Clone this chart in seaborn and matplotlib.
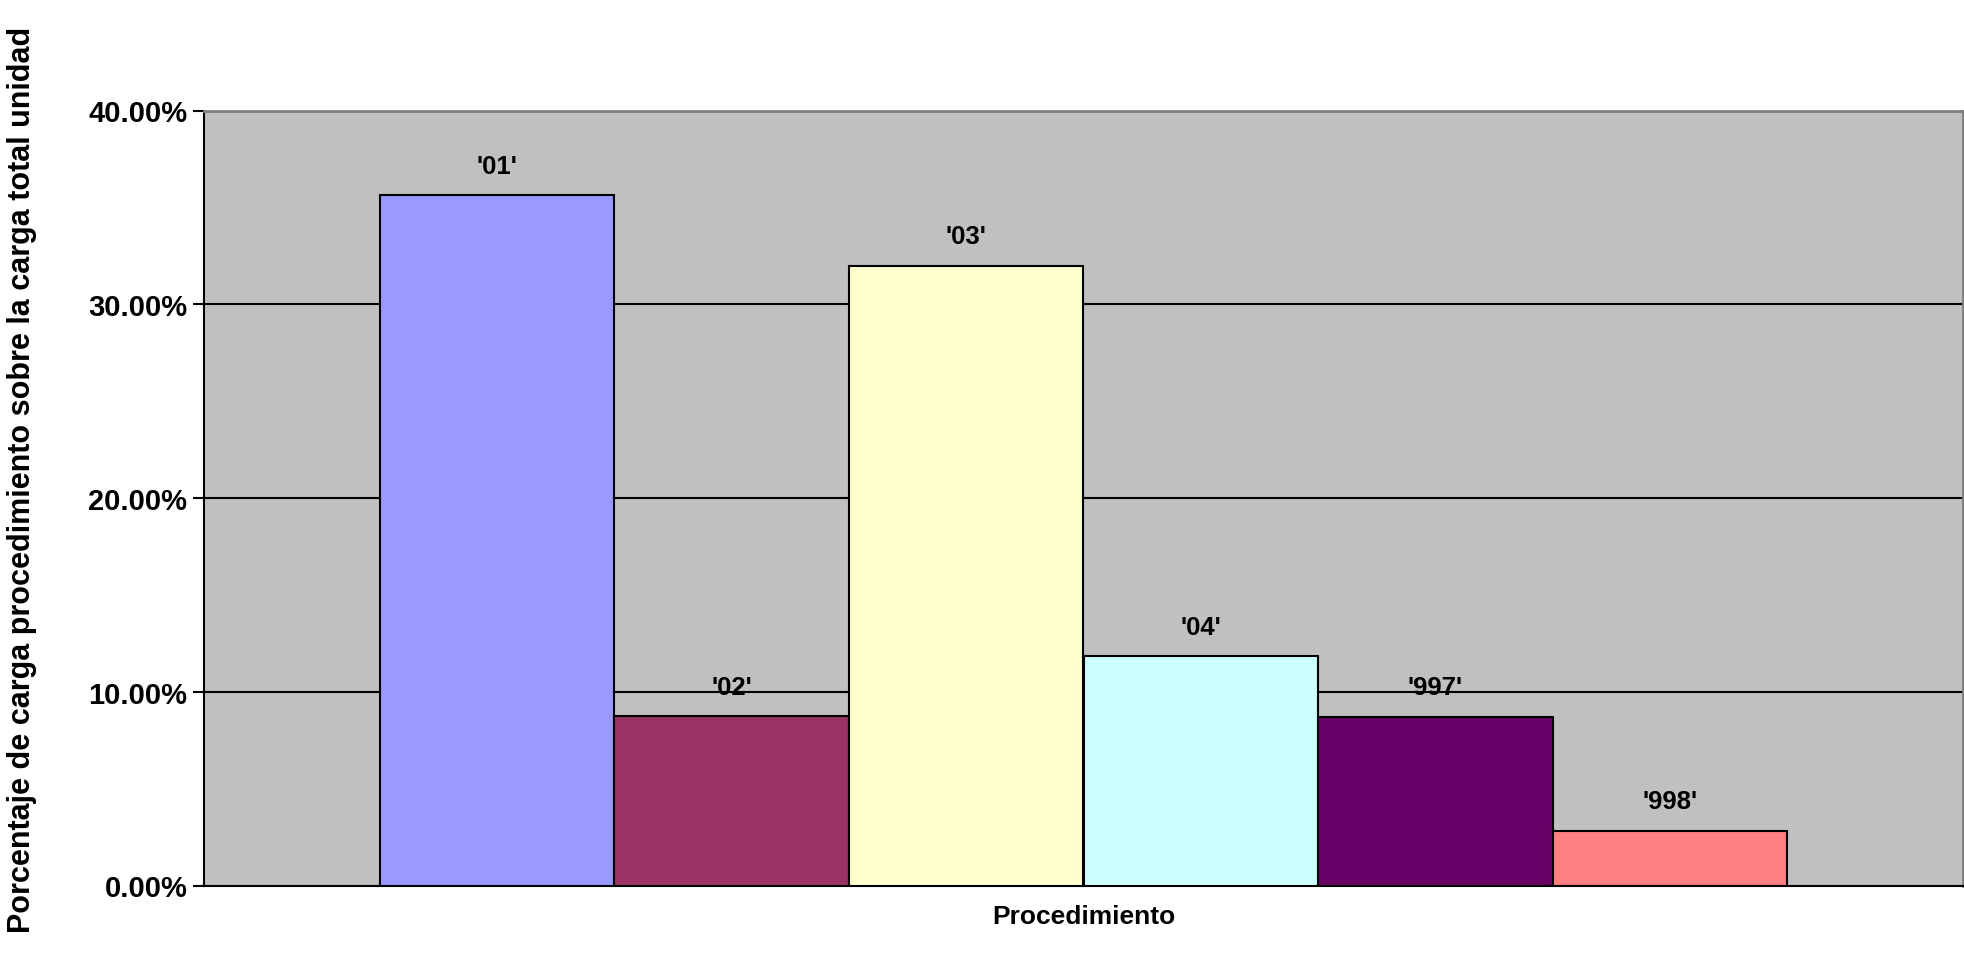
import matplotlib
matplotlib.use("Agg")
import matplotlib.pyplot as plt
import seaborn as sns
import pandas as pd
from matplotlib.ticker import FuncFormatter

categories = ["Procedimiento"]
series = ["'01'", "'02'", "'03'", "'04'", "'997'", "'998'"]
values = [35.66, 8.75, 32.0, 11.85, 8.74, 2.86]
colors = ["#9999FF", "#993366", "#FFFFCC", "#CCFFFF", "#660066", "#FF8080"]
ytick_vals = [0, 10, 20, 30, 40]

df = pd.DataFrame({"cat": categories * len(series), "serie": series, "valor": values})

sns.set_style("white")
plt.rcParams["font.family"] = ["Liberation Sans", "DejaVu Sans"]
plt.rcParams["font.weight"] = "bold"

fig = plt.figure(figsize=(19.64, 9.545), dpi=100)
ax = fig.add_axes([204 / 1964, 68 / 954, 1759 / 1964, 775 / 954])
ax.set_facecolor("#C0C0C0")

sns.barplot(data=df, x="cat", y="valor", hue="serie", hue_order=series,
            palette=colors, width=0.8, dodge=True, saturation=1,
            edgecolor="black", linewidth=1.5, legend=False, ax=ax, zorder=3)

for cont, name in zip(ax.containers, series):
    ax.bar_label(cont, labels=[name], padding=12, fontsize=18.5, fontweight="bold",
                 color="black", zorder=5)

ax.set_xlim(-0.5, 0.5)
ax.set_ylim(0, 40)
ax.set_yticks(ytick_vals)
ax.yaxis.set_major_formatter(FuncFormatter(lambda v, p: f"{v:.2f}%"))
ax.grid(axis="y", color="black", linewidth=1.5, zorder=1)
ax.set_axisbelow(True)

ax.tick_params(axis="y", direction="out", length=8, width=1.5, color="black",
               labelsize=21, pad=4, left=True, labelcolor="black")
ax.tick_params(axis="x", length=0, labelsize=19, pad=13, labelcolor="black")
for lab in ax.get_yticklabels() + ax.get_xticklabels():
    lab.set_fontweight("bold")

ax.set_xlabel("")
ax.set_ylabel("Porcentaje de carga procedimiento sobre la carga total unidad",
              fontsize=22, fontweight="bold", color="black")
ax.yaxis.label.set_va("center")
ax.yaxis.label.set_ha("center")
ax.yaxis.set_label_coords(-0.1035, 0.525)

for side in ["left", "bottom"]:
    ax.spines[side].set_color("black")
    ax.spines[side].set_linewidth(1.5)
for side in ["top", "right"]:
    ax.spines[side].set_color("#808080")
    ax.spines[side].set_linewidth(2)

fig.savefig("out.png", dpi=100, facecolor="white")
